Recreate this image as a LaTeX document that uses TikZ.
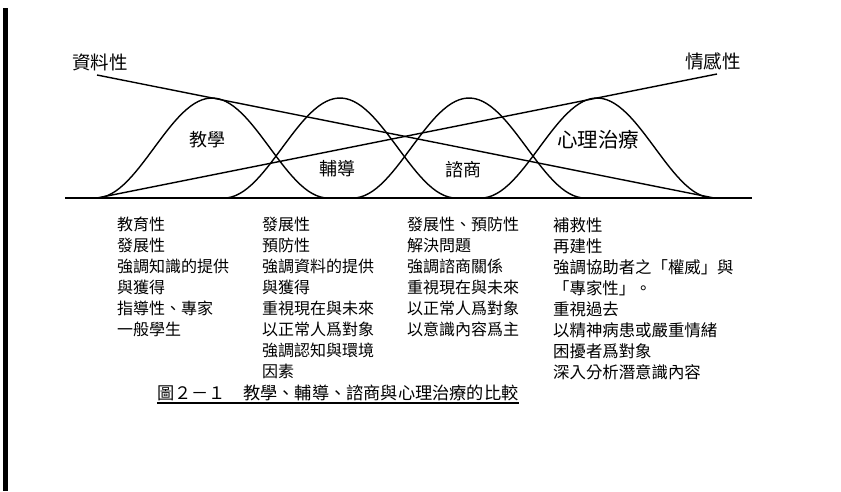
\documentclass[tikz,border=0pt]{standalone}
\usepackage{fontspec}
\newfontfamily\cjk{Noto Sans CJK TC}
\usetikzlibrary{positioning}

\begin{document}
\begin{tikzpicture}[
  x=1pt, y=-1pt,
  every node/.style={font=\cjk},
  axislabel/.style={font=\cjk\fontsize{18.5}{20}\selectfont, inner sep=0pt},
  bellname/.style={font=\cjk\fontsize{18}{20}\selectfont, inner sep=0pt},
  item/.style={font=\cjk\fontsize{16}{21}\selectfont, anchor=base west, inner sep=0pt},
  bell/.style={line width=1.4pt},
  trend/.style={line width=1.4pt},
  base/.style={line width=1.8pt}
]
\useasboundingbox (0,0) rectangle (841,491);

% Scan edge
\fill (3,8) rectangle (8,491);

% Baseline and trend lines
\coordinate (baseL) at (65,198);
\coordinate (baseR) at (752,198);
\coordinate (dataTop) at (97,75);
\coordinate (dataEnd) at (714,198);
\coordinate (feelFoot) at (97,198);
\coordinate (feelTop) at (717,74);
\draw[base] (baseL) -- (baseR);
\draw[trend] (dataTop) -- (dataEnd);
\draw[trend] (feelFoot) -- (feelTop);

% Bells
\foreach \c in {212,340,469,597}
  \draw[bell] plot[domain=-116:116, samples=60]
    ({\c+\x},{198-50*(1+cos(1.55172*\x))});

% Labels
\node[axislabel] (data) at (100,62) {資料性};
\node[axislabel] (feel) at (713,61) {情感性};
\node[bellname] (teach) at (207,140) {教學};
\node[bellname] (guide) at (337,169) {輔導};
\node[bellname] (counsel) at (463,170) {諮商};
\node[bellname, font=\cjk\fontsize{20.5}{22}\selectfont] (therapy) at (598,140) {心理治療};

% Columns
\foreach \t [count=\i] in {教育性, 發展性, 強調知識的提供, 與獲得, 指導性、專家, 一般學生}
  \node[item] (teach-\i) at (117,209+21*\i) {\t};
\foreach \t [count=\i] in {發展性, 預防性, 強調資料的提供, 與獲得, 重視現在與未來,
    以正常人爲對象, 強調認知與環境, 因素}
  \node[item] (guide-\i) at (262,209+21*\i) {\t};
\foreach \t [count=\i] in {發展性、預防性, 解決問題, 強調諮商關係, 重視現在與未來,
    以正常人爲對象, 以意識內容爲主}
  \node[item] (counsel-\i) at (407,209+21*\i) {\t};
\foreach \t [count=\i] in {補救性, 再建性, 強調協助者之「權威」與, 「專家性」。, 重視過去,
    以精神病患或嚴重情緒, 困擾者爲對象, 深入分析潛意識內容}
  \node[item, font=\cjk\fontsize{16.4}{21}\selectfont] (therapy-\i) at (553,210+21*\i) {\t};

% Caption
\node[item, font=\cjk\fontsize{17.2}{20}\selectfont] (cap) at (157,399)
  {圖２－１　教學、輔導、諮商與心理治療的比較};
\draw[line width=1.2pt] ([yshift=-4pt]cap.base west) -- ([yshift=-4pt]cap.base east);
\end{tikzpicture}
\end{document}
